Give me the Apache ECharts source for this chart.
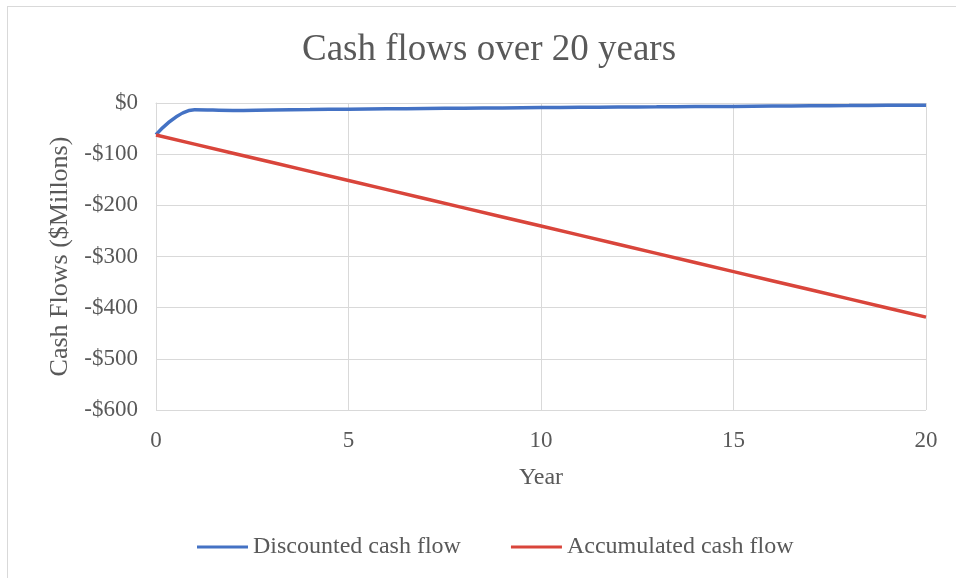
<!DOCTYPE html>
<html>
<head>
<meta charset="utf-8">
<script src="https://cdn.jsdelivr.net/npm/echarts@6/dist/echarts.min.js"></script>
<style>
  html, body { margin: 0; padding: 0; background: #fff; }
  #frame { position: absolute; left: 7px; top: 6px; width: 960px; height: 600px; border: 1px solid #d9d9d9; box-sizing: border-box; }
  #chart { position: absolute; left: 0; top: 0; width: 956px; height: 578px; }
</style>
</head>
<body>
<div id="frame"></div>
<div id="chart"></div>
<script>
// years on the x axis
const years = [0, 1, 2, 3, 4, 5, 6, 7, 8, 9, 10, 11, 12, 13, 14, 15, 16, 17, 18, 19, 20]
// discounted cash flow per year ($ millions)
const discounted = [-62, -13, -14.5, -13.5, -12.8, -12, -11.4, -10.8, -10.2, -9.6, -9, -8.5, -8, -7.5, -7, -6.6, -6.1, -5.6, -5.1, -4.6, -4.2]
// accumulated cash flow ($ millions)
const accumulated = [-62.5, -80.3, -98.1, -115.9, -133.7, -151.5, -169.3, -187.1, -204.9, -222.7, -240.5, -258.3, -276.1, -293.9, -311.7, -329.5, -347.3, -365.1, -382.9, -400.7, -418.5]

const font = '"Liberation Serif", "DejaVu Serif", serif'
const textColor = '#595959'
const gridColor = '#d9d9d9'

const chart = echarts.init(document.getElementById('chart'))
chart.setOption({
  animation: false,
  title: {
    text: 'Cash flows over 20 years',
    left: 297,
    top: 27,
    textStyle: { fontFamily: font, fontSize: 37, fontWeight: 'normal', color: textColor }
  },
  legend: {
    bottom: 14,
    left: 192,
    itemWidth: 51,
    itemHeight: 3,
    itemGap: 50,
    icon: 'rect',
    textStyle: { fontFamily: font, fontSize: 24, color: textColor },
    data: ['Discounted cash flow', 'Accumulated cash flow']
  },
  grid: { left: 156, right: 30, top: 103, bottom: 168 },
  xAxis: {
    type: 'value',
    min: 0,
    max: 20,
    interval: 5,
    name: 'Year',
    nameLocation: 'middle',
    nameGap: 56,
    nameTextStyle: { fontFamily: font, fontSize: 24, color: textColor },
    axisLine: { show: true, lineStyle: { color: gridColor } },
    axisTick: { show: false },
    axisLabel: { fontFamily: font, fontSize: 23, color: textColor, margin: 19 },
    splitLine: { show: true, lineStyle: { color: gridColor } }
  },
  yAxis: {
    type: 'value',
    min: -600,
    max: 0,
    interval: 100,
    name: 'Cash Flows ($Millons)',
    nameLocation: 'middle',
    nameGap: 74,
    nameTextStyle: { fontFamily: font, fontSize: 26, color: textColor },
    axisLine: { show: true, lineStyle: { color: gridColor } },
    axisTick: { show: false },
    axisLabel: {
      fontFamily: font, fontSize: 23, color: textColor, margin: 18,
      formatter: v => (v < 0 ? '-$' + (-v) : '$' + v)
    },
    splitLine: { show: true, lineStyle: { color: gridColor } }
  },
  series: [
    {
      name: 'Discounted cash flow',
      type: 'line',
      smooth: 0.4,
      showSymbol: false,
      data: years.map((y, i) => [y, discounted[i]]),
      lineStyle: { color: '#4472c4', width: 3.5 },
      itemStyle: { color: '#4472c4' }
    },
    {
      name: 'Accumulated cash flow',
      type: 'line',
      showSymbol: false,
      data: years.map((y, i) => [y, accumulated[i]]),
      lineStyle: { color: '#d9453b', width: 3.5 },
      itemStyle: { color: '#d9453b' }
    }
  ]
})
</script>
</body>
</html>
